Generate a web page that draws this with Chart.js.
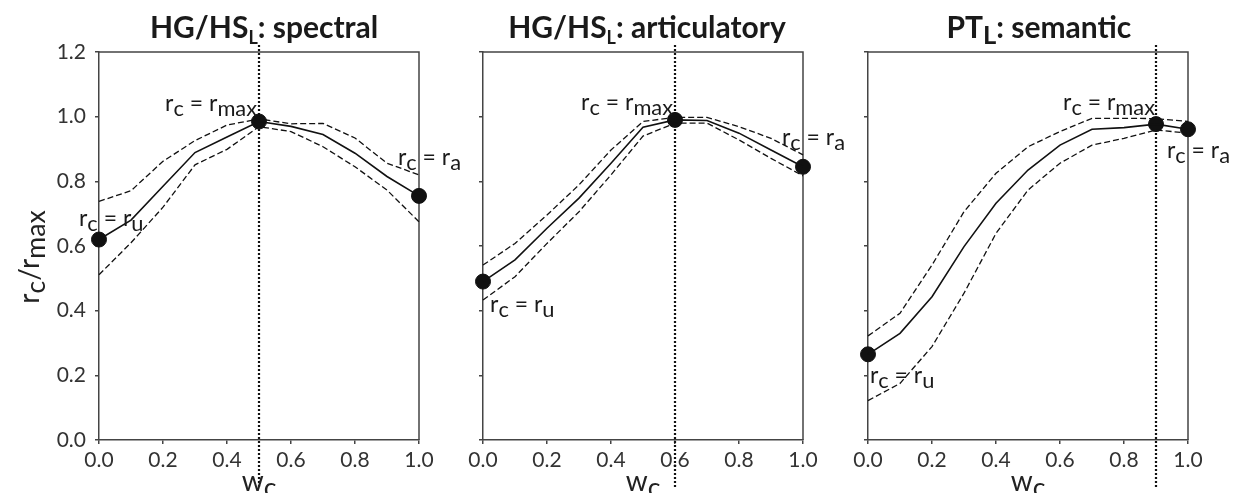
<!DOCTYPE html>
<html>
<head>
<meta charset="utf-8">
<script src="https://cdn.jsdelivr.net/npm/chart.js@4.4.1/dist/chart.umd.min.js"></script>
<style>
  body { margin: 0; background: #fff; width: 1235px; height: 493px; overflow: hidden; position: relative; }
  canvas { position: absolute; top: 0; }
</style>
</head>
<body>
<canvas id="c1" style="left:0px" width="470" height="493"></canvas>
<canvas id="c2" style="left:460px" width="400" height="493"></canvas>
<canvas id="c3" style="left:845px" width="390" height="493"></canvas>
<script>
// data
const wc = [0.0, 0.1, 0.2, 0.3, 0.4, 0.5, 0.6, 0.7, 0.8, 0.9, 1.0];
const xTickValues = [0.0, 0.2, 0.4, 0.6, 0.8, 1.0];
const yTickValues = [0.0, 0.2, 0.4, 0.6, 0.8, 1.0, 1.2];

const spectralMean  = [0.620, 0.680, 0.785, 0.889, 0.937, 0.985, 0.970, 0.945, 0.887, 0.815, 0.755];
const spectralUpper = [0.738, 0.771, 0.862, 0.926, 0.974, 0.993, 0.978, 0.979, 0.934, 0.856, 0.820];
const spectralLower = [0.511, 0.610, 0.720, 0.851, 0.899, 0.969, 0.954, 0.907, 0.845, 0.773, 0.675];

const articMean  = [0.490, 0.557, 0.655, 0.748, 0.856, 0.967, 0.990, 0.988, 0.949, 0.897, 0.845];
const articUpper = [0.541, 0.608, 0.696, 0.789, 0.897, 0.985, 0.998, 0.998, 0.969, 0.933, 0.882];
const articLower = [0.433, 0.505, 0.608, 0.706, 0.820, 0.940, 0.980, 0.980, 0.928, 0.871, 0.817];

const semMean  = [0.265, 0.330, 0.443, 0.598, 0.732, 0.835, 0.912, 0.961, 0.966, 0.977, 0.961];
const semUpper = [0.322, 0.392, 0.541, 0.706, 0.825, 0.907, 0.954, 0.995, 0.995, 0.994, 0.985];
const semLower = [0.122, 0.175, 0.289, 0.454, 0.639, 0.773, 0.856, 0.912, 0.933, 0.959, 0.949];

// index of r_u, r_max, r_a points
const markerIdx = [[0, 5, 10], [0, 6, 10], [0, 9, 10]];
const peakW = [0.5, 0.6, 0.9];

const FONT = 'Lato';
const RC = {t: 'r'};
const labRmax = [RC, {t: 'c', s: 1}, {t: ' = r'}, {t: 'max', s: 1}];
const labRa = [RC, {t: 'c', s: 1}, {t: ' = r'}, {t: 'a', s: 1}];
const labRu = [RC, {t: 'c', s: 1}, {t: ' = r'}, {t: 'u', s: 1}];

function richText(ctx, parts, x, y, o) {
  const size = o.size, weight = o.weight || 'normal';
  const subSize = size * (o.subScale || 0.9), subDy = o.subDy || 5;
  const ws = parts.map(p => {
    ctx.font = `${weight} ${p.s ? subSize : size}px ${FONT}`;
    return ctx.measureText(p.t).width;
  });
  const total = ws.reduce((a, b) => a + b, 0);
  let cx = o.align === 'center' ? x - total / 2 : o.align === 'right' ? x - total : x;
  ctx.textAlign = 'left';
  ctx.textBaseline = 'alphabetic';
  parts.forEach((p, i) => {
    ctx.font = `${weight} ${p.s ? subSize : size}px ${FONT}`;
    ctx.fillText(p.t, cx, y + (p.s ? subDy : 0));
    cx += ws[i];
  });
}

function overlay(panel) {
  return {
    id: 'overlay',
    beforeDatasetsDraw(chart) {
      const {ctx, chartArea: a} = chart;
      const px = chart.scales.x.getPixelForValue(panel.peak);
      ctx.save();
      ctx.strokeStyle = '#444';
      ctx.lineWidth = 1.5;
      ctx.beginPath();
      ctx.moveTo(a.left, a.top);
      ctx.lineTo(a.right, a.top);
      ctx.lineTo(a.right, a.bottom);
      ctx.stroke();
      ctx.strokeStyle = '#111';
      ctx.lineWidth = 2.2;
      ctx.setLineDash([2, 2]);
      ctx.beginPath();
      ctx.moveTo(px, a.top - 7);
      ctx.lineTo(px, a.bottom + 48);
      ctx.stroke();
      ctx.restore();
    },
    afterDraw(chart) {
      const {ctx, chartArea: a, scales: {x, y}} = chart;
      ctx.save();
      ctx.fillStyle = '#1a1a1a';
      richText(ctx, panel.title, x.getPixelForValue(panel.titleX), 38,
        {size: 30, weight: 'bold', align: 'center', subScale: panel.titleSub, subDy: 6});
      panel.notes.forEach(n => {
        richText(ctx, n.parts, x.getPixelForValue(n.x), y.getPixelForValue(n.y),
          {size: 23, align: n.align, subScale: 0.95, subDy: 5});
      });
      ctx.fillStyle = '#222';
      richText(ctx, [{t: 'w'}, {t: 'c', s: 1}], (a.left + a.right) / 2, 491,
        {size: 28, align: 'center', subScale: 0.95, subDy: 6});
      if (panel.yTitle) {
        ctx.translate(30, 257);
        ctx.rotate(-Math.PI / 2);
        richText(ctx, [{t: 'r'}, {t: 'c', s: 1}, {t: '/r'}, {t: 'max', s: 1}], 0, 9,
          {size: 28, align: 'center', subScale: 0.95, subDy: 6});
      }
      ctx.restore();
    }
  };
}

function makePanel(id, panel) {
  const pts = arr => wc.map((w, i) => ({x: w, y: arr[i]}));
  const lineDs = (arr, dash, width) => ({
    data: pts(arr), borderColor: '#111', borderWidth: width, borderDash: dash,
    pointRadius: 0, tension: 0, fill: false, clip: false
  });
  new Chart(document.getElementById(id), {
    type: 'line',
    data: {
      datasets: [
        lineDs(panel.upper, [6, 3], 1.3),
        lineDs(panel.lower, [6, 3], 1.3),
        lineDs(panel.mean, [], 1.6),
        {
          data: panel.marks.map(i => ({x: wc[i], y: panel.mean[i]})),
          showLine: false, pointRadius: 7.5, pointHoverRadius: 7.5,
          pointBackgroundColor: '#111', pointBorderColor: '#111', clip: false
        }
      ]
    },
    options: {
      responsive: false,
      animation: false,
      events: [],
      layout: {padding: {left: panel.padLeft, right: panel.padRight, top: 52, bottom: 13}},
      plugins: {legend: {display: false}, tooltip: {enabled: false}},
      scales: {
        x: {
          type: 'linear', min: 0, max: 1,
          afterBuildTicks: s => { s.ticks = xTickValues.map(v => ({value: v})); },
          afterFit: s => { s.height = 40; },
          ticks: {
            callback: v => v.toFixed(1), color: '#333', padding: 4,
            font: {family: FONT, size: 21}, maxRotation: 0
          },
          grid: {display: true, drawOnChartArea: false, drawTicks: true, tickLength: 4, color: '#444', lineWidth: 1.5},
          border: {display: true, color: '#444', width: 1.5}
        },
        y: {
          type: 'linear', min: 0, max: 1.2,
          afterBuildTicks: s => { s.ticks = yTickValues.map(v => ({value: v})); },
          afterFit: s => { s.width = panel.axisW; },
          ticks: {
            display: panel.yLabels, callback: v => v.toFixed(1), color: '#333', padding: 9,
            font: {family: FONT, size: 21}
          },
          grid: {display: true, drawOnChartArea: false, drawTicks: true, tickLength: 4, color: '#444', lineWidth: 1.5},
          border: {display: true, color: '#444', width: 1.5}
        }
      }
    },
    plugins: [overlay(panel)]
  });
}

makePanel('c1', {
  mean: spectralMean, upper: spectralUpper, lower: spectralLower, marks: markerIdx[0], peak: peakW[0],
  title: [{t: 'HG/HS'}, {t: 'L', s: 1}, {t: ': spectral'}], titleSub: 0.6, titleX: 0.516,
  notes: [
    {parts: labRmax, x: 0.494, y: 1.018, align: 'right'},
    {parts: labRa, x: 0.934, y: 0.851, align: 'left'},
    {parts: labRu, x: -0.0625, y: 0.662, align: 'left'}
  ],
  padLeft: 0, padRight: 51, axisW: 99, yLabels: true, yTitle: true
});

makePanel('c2', {
  mean: articMean, upper: articUpper, lower: articLower, marks: markerIdx[1], peak: peakW[1],
  title: [{t: 'HG/HS'}, {t: 'L', s: 1}, {t: ': articulatory'}], titleSub: 0.6, titleX: 0.5125,
  notes: [
    {parts: labRmax, x: 0.594, y: 1.021, align: 'right'},
    {parts: labRa, x: 0.934, y: 0.912, align: 'left'},
    {parts: labRu, x: 0.022, y: 0.396, align: 'left'}
  ],
  padLeft: 0, padRight: 57, axisW: 23, yLabels: false, yTitle: false
});

makePanel('c3', {
  mean: semMean, upper: semUpper, lower: semLower, marks: markerIdx[2], peak: peakW[2],
  title: [{t: 'PT'}, {t: 'L', s: 1}, {t: ': semantic'}], titleSub: 0.85, titleX: 0.534,
  notes: [
    {parts: labRmax, x: 0.897, y: 1.021, align: 'right'},
    {parts: labRa, x: 0.934, y: 0.872, align: 'left'},
    {parts: labRu, x: 0.006, y: 0.176, align: 'left'}
  ],
  padLeft: 0, padRight: 47, axisW: 23, yLabels: false, yTitle: false
});
</script>
</body>
</html>
